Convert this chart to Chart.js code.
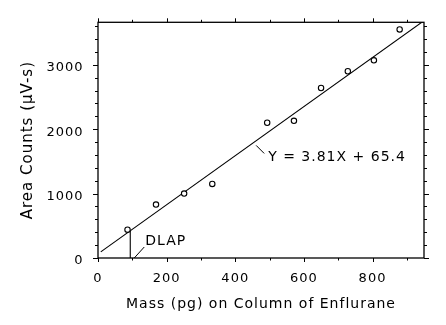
<!DOCTYPE html>
<html>
<head>
<meta charset="utf-8">
<script src="https://cdn.jsdelivr.net/npm/chart.js@4.4.1/dist/chart.umd.min.js"></script>
<style>
  html, body { margin: 0; padding: 0; background: #fff; }
  #wrap { width: 446px; height: 325px; }
</style>
</head>
<body>
<div id="wrap"><canvas id="calChart"></canvas></div>
<script>
// calibration points
const massPg = [86, 169, 251, 333, 493, 571, 650, 728, 804, 879];
const areaCounts = [440, 830, 1000, 1150, 2100, 2130, 2640, 2900, 3070, 3550];

// regression line as printed on the chart
const fitSlope = 3.81;
const fitIntercept = 65.4;
const fitRange = [8, 950];
const dlapMass = 94;
const eqAnchorMass = 458;

const xTickLabels = [0, 200, 400, 600, 800];
const yTickLabels = [0, 1000, 2000, 3000];

const fit = (m) => fitSlope * m + fitIntercept;

Chart.defaults.font.family = "'DejaVu Sans', sans-serif";
Chart.defaults.font.size = 14;
Chart.defaults.color = "#000";

const extras = {
  id: "extras",
  beforeDraw(chart) {
    // old plotter lettering is widely tracked
    chart.ctx.letterSpacing = "1px";
  },
  afterDatasetsDraw(chart) {
    const { ctx, chartArea: a, scales: { x, y } } = chart;
    ctx.save();
    ctx.strokeStyle = "#000";
    ctx.lineWidth = 1.3;
    ctx.strokeRect(a.left, a.top, a.right - a.left, a.bottom - a.top);

    // tick marks, outside the frame on all four sides
    ctx.lineWidth = 1;
    ctx.beginPath();
    for (let v = 0; v <= x.max; v += 100) {
      const px = Math.round(x.getPixelForValue(v)) + 0.5;
      const len = v % 200 === 0 ? 4 : 2.5;
      ctx.moveTo(px, a.bottom); ctx.lineTo(px, a.bottom + len);
      ctx.moveTo(px, a.top); ctx.lineTo(px, a.top - len);
    }
    for (let v = 0; v <= y.max; v += 200) {
      const py = Math.round(y.getPixelForValue(v)) + 0.5;
      const len = v % 1000 === 0 ? 5 : 3;
      ctx.moveTo(a.left, py); ctx.lineTo(a.left - len, py);
      ctx.moveTo(a.right, py); ctx.lineTo(a.right + len, py);
    }
    ctx.stroke();

    // DLAP label with leader
    const dx = x.getPixelForValue(dlapMass);
    ctx.beginPath();
    ctx.moveTo(dx + 4, a.bottom);
    ctx.lineTo(dx + 14, a.bottom - 11);
    // equation leader
    const ex = x.getPixelForValue(eqAnchorMass);
    const ey = y.getPixelForValue(fit(eqAnchorMass));
    ctx.moveTo(ex + 1, ey + 4);
    ctx.lineTo(ex + 9, ey + 12);
    ctx.stroke();

    ctx.fillStyle = "#000";
    ctx.font = "14px 'DejaVu Sans', sans-serif";
    ctx.textAlign = "left";
    ctx.textBaseline = "middle";
    ctx.fillText("DLAP", dx + 15, a.bottom - 17);
    ctx.fillText("Y = 3.81X + 65.4", ex + 13, ey + 16);
    ctx.restore();
  },
  afterDraw(chart) {
    chart.ctx.letterSpacing = "0px";
  }
};

new Chart(document.getElementById("calChart"), {
  type: "scatter",
  data: {
    datasets: [
      {
        label: "Enflurane",
        data: massPg.map((m, i) => ({ x: m, y: areaCounts[i] })),
        pointRadius: 2.7,
        pointBorderWidth: 1.1,
        pointBorderColor: "#000",
        pointBackgroundColor: "#fff"
      },
      {
        label: "Fit",
        data: fitRange.map((m) => ({ x: m, y: fit(m) })),
        showLine: true,
        pointRadius: 0,
        borderColor: "#000",
        borderWidth: 1.1
      },
      {
        label: "DLAP",
        data: [{ x: dlapMass, y: 0 }, { x: dlapMass, y: fit(dlapMass) }],
        showLine: true,
        pointRadius: 0,
        borderColor: "#000",
        borderWidth: 1.1
      }
    ]
  },
  options: {
    responsive: true,
    maintainAspectRatio: false,
    animation: false,
    layout: { padding: { top: 19, right: 22, left: 0, bottom: 0 } },
    plugins: {
      legend: { display: false },
      tooltip: { enabled: false }
    },
    scales: {
      x: {
        type: "linear",
        min: 0,
        max: 950,
        grid: { display: false, drawTicks: false },
        border: { display: false },
        ticks: {
          stepSize: 100,
          padding: 12.5,
          maxRotation: 0,
          autoSkip: false,
          font: { size: 13 },
          callback: (v) => (xTickLabels.includes(v) ? v : "")
        },
        title: {
          display: true,
          text: "Mass (pg) on Column of Enflurane",
          font: { size: 14 },
          padding: { top: 0, bottom: 12.6 }
        },
        afterFit: (s) => { s.height = 67; }
      },
      y: {
        type: "linear",
        min: 0,
        max: 3660,
        grid: { display: false, drawTicks: false },
        border: { display: false },
        ticks: {
          stepSize: 200,
          padding: 14.5,
          labelOffset: 3,
          autoSkip: false,
          font: { size: 13 },
          callback: (v) => (yTickLabels.includes(v) ? v : "")
        },
        title: {
          display: true,
          text: "Area Counts (\u00b5V-s)",
          font: { size: 15 },
          padding: { top: 19, bottom: 0 }
        },
        afterFit: (s) => { s.width = 98; }
      }
    }
  },
  plugins: [extras]
});
</script>
</body>
</html>
